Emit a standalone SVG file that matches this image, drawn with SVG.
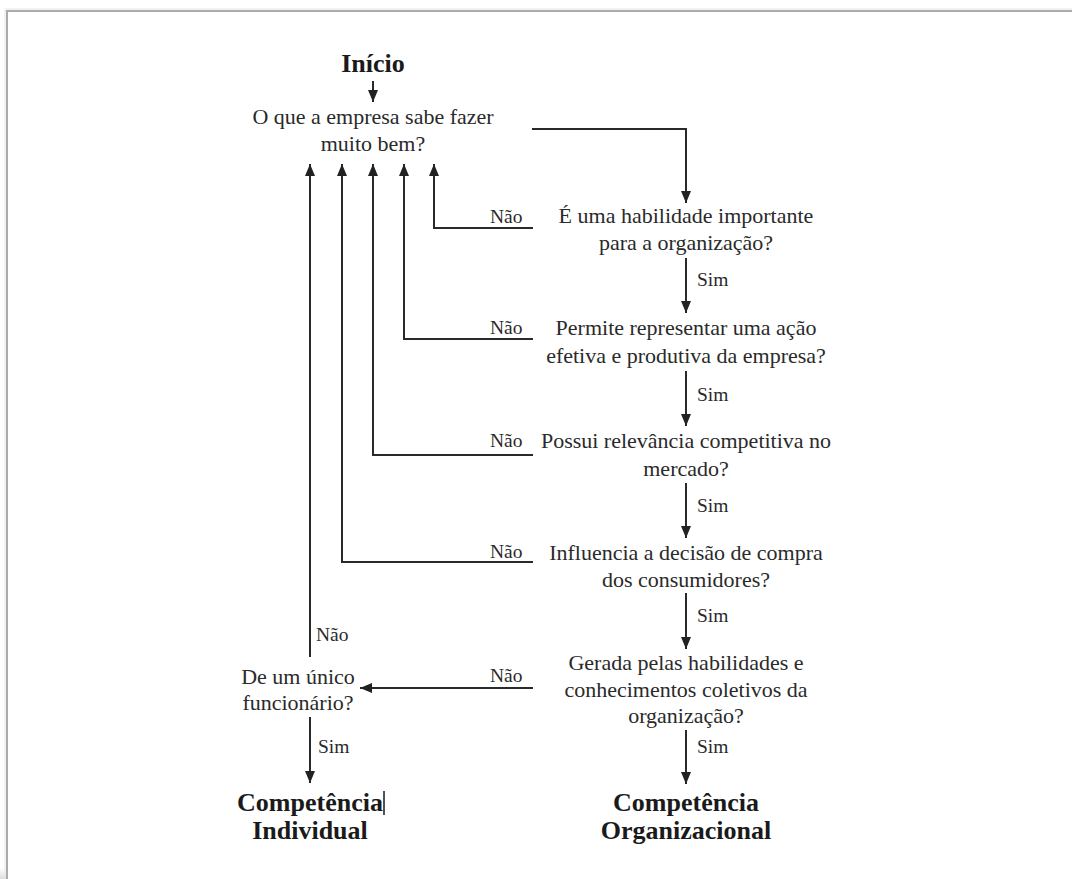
<svg xmlns="http://www.w3.org/2000/svg" width="1072" height="879" viewBox="0 0 1072 879">
<defs>
<marker id="ah" markerWidth="12" markerHeight="10" refX="12" refY="5" orient="auto" markerUnits="userSpaceOnUse" viewBox="0 0 12 10">
<path d="M0,0 L12,5 L0,10 Z" fill="#222"/>
</marker>
<linearGradient id="sh" x1="0" y1="0" x2="0" y2="1">
<stop offset="0" stop-color="#ffffff"/>
<stop offset="1" stop-color="#dcdcdc"/>
</linearGradient>
<style>
.t{font-family:"Liberation Serif","Times New Roman",serif;font-size:22px;fill:#2a2a2a;text-anchor:middle}
.s{font-family:"Liberation Serif","Times New Roman",serif;font-size:19.5px;fill:#2a2a2a}
.b{font-family:"Liberation Serif","Times New Roman",serif;font-size:26px;font-weight:bold;fill:#1a1a1a;text-anchor:middle}
.a{fill:none;stroke:#2a2a2a;stroke-width:2;marker-end:url(#ah)}
</style>
</defs>
<rect width="1072" height="879" fill="#ffffff"/>
<rect x="0" y="868" width="1072" height="11" fill="url(#sh)"/>
<rect x="7" y="11" width="1080" height="880" fill="#ffffff" stroke="#ababab" stroke-width="2"/>
<rect x="5" y="9" width="1080" height="880" fill="none" stroke="#e6e6e6" stroke-width="1"/>

<g id="connectors">
<line class="a" x1="373" y1="81" x2="373" y2="102"/>
<polyline class="a" points="532,129 686,129 686,203"/>
<polyline class="a" points="533,228 434,228 434,164"/>
<line class="a" x1="686" y1="258" x2="686" y2="313"/>
<polyline class="a" points="533,339 404,339 404,164"/>
<line class="a" x1="686" y1="371" x2="686" y2="426"/>
<polyline class="a" points="533,455 373,455 373,164"/>
<line class="a" x1="686" y1="483" x2="686" y2="538"/>
<polyline class="a" points="533,562 342,562 342,164"/>
<line class="a" x1="686" y1="593" x2="686" y2="649"/>
<line class="a" x1="533" y1="688" x2="360" y2="688"/>
<line class="a" x1="310" y1="657" x2="310" y2="164"/>
<line class="a" x1="310" y1="717" x2="310" y2="783"/>
<line class="a" x1="686" y1="730" x2="686" y2="784"/>
<text class="s" x="490" y="223">Não</text>
<text class="s" x="490" y="334">Não</text>
<text class="s" x="490" y="447">Não</text>
<text class="s" x="490" y="558">Não</text>
<text class="s" x="490" y="682">Não</text>
<text class="s" x="316" y="641">Não</text>
<text class="s" x="697" y="286">Sim</text>
<text class="s" x="697" y="401">Sim</text>
<text class="s" x="697" y="512">Sim</text>
<text class="s" x="697" y="622">Sim</text>
<text class="s" x="697" y="753">Sim</text>
<text class="s" x="318" y="753">Sim</text>
</g>

<g id="inicio"><text class="b" x="373" y="72">Início</text></g>
<g id="q0"><text class="t" x="373" y="124">O que a empresa sabe fazer</text><text class="t" x="373" y="151">muito bem?</text></g>
<g id="q1"><text class="t" x="686" y="223">É uma habilidade importante</text><text class="t" x="686" y="250">para a organização?</text></g>
<g id="q2"><text class="t" x="686" y="335">Permite representar uma ação</text><text class="t" x="686" y="363">efetiva e produtiva da empresa?</text></g>
<g id="q3"><text class="t" x="686" y="448">Possui relevância competitiva no</text><text class="t" x="686" y="476">mercado?</text></g>
<g id="q4"><text class="t" x="686" y="560">Influencia a decisão de compra</text><text class="t" x="686" y="587">dos consumidores?</text></g>
<g id="q5"><text class="t" x="686" y="670">Gerada pelas habilidades e</text><text class="t" x="686" y="697">conhecimentos coletivos da</text><text class="t" x="686" y="723">organização?</text></g>
<g id="q6"><text class="t" x="298" y="684">De um único</text><text class="t" x="298" y="710">funcionário?</text></g>
<g id="individual"><text class="b" x="310" y="811">Competência</text><text class="b" x="310" y="839">Individual</text><line x1="384" y1="791" x2="384" y2="815" stroke="#1a1a1a" stroke-width="1.5"/></g>
<g id="organizacional"><text class="b" x="686" y="811">Competência</text><text class="b" x="686" y="839">Organizacional</text></g>
</svg>
